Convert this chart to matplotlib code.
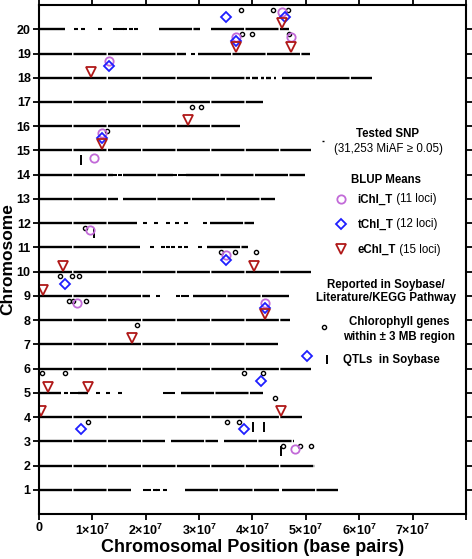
import matplotlib
matplotlib.use("Agg")
import matplotlib.pyplot as plt
import numpy as np

plt.rcParams['font.family'] = ['Liberation Sans', 'DejaVu Sans']
plt.rcParams['mathtext.default'] = 'regular'

MB = 1e6

# tested SNP coverage per chromosome (Mb): dense stretches and sparse single SNPs
snp_segments = {
    1: [(0, 17.3), (27.3, 45.0), (45.5, 56.0)],
    2: [(0, 51.7)],
    3: [(0, 23.6), (24.8, 33.6), (34.6, 47.8)],
    4: [(0, 49.3)],
    5: [(0, 4.2), (7.3, 9.2), (26.7, 42.0)],
    6: [(0, 50.9)],
    7: [(0, 44.8)],
    8: [(0, 47.1)],
    9: [(0, 20.8), (28.9, 46.8)],
    10: [(0, 50.9)],
    11: [(0, 18.9), (31.4, 39.1)],
    12: [(0, 18.3), (32.0, 40.3)],
    13: [(0, 14.8), (15.8, 44.2)],
    14: [(0, 13.9), (15.8, 25.1), (27.6, 49.8)],
    15: [(0, 51.0)],
    16: [(0, 37.6)],
    17: [(0, 42.0)],
    18: [(0, 39.6), (40.0, 41.0), (41.6, 42.2), (42.6, 43.4), (44.0, 44.4), (45.6, 62.5)],
    19: [(0, 27.6), (29.8, 50.7)],
    20: [(0, 4.8), (22.5, 30.1), (32.3, 46.8)],
}
snp_sparse = {
    1: [19.8, 20.7, 21.7, 22.3, 23.6],
    5: [5.1, 6.1, 7.0, 11.1, 12.9, 15.2, 23.6, 24.4, 25.1],
    9: [22.3, 26.1, 27.0, 27.7],
    11: [21.1, 23.3, 24.2, 25.1, 26.4, 27.6, 30.1],
    12: [19.8, 22.0, 24.2, 25.8, 27.6, 31.1],
    14: [14.2, 15.1, 25.4, 26.4, 27.2],
    19: [28.8],
    20: [6.9, 8.3, 11.4, 14.2, 14.8, 15.5, 16.1, 17.3, 18.1],
}

# BLUP loci (chromosome, position Mb)
ichl_chr = [19, 19, 18, 20, 15, 14, 11, 10, 8, 8, 2]
ichl_pos = [36.9, 47.2, 13.1, 45.6, 11.8, 10.4, 9.5, 35.1, 7.2, 42.4, 47.9]
tchl_chr = [20, 20, 19, 18, 15, 10, 9, 8, 6, 5, 3, 3]
tchl_pos = [35.0, 46.1, 36.9, 13.1, 11.8, 35.1, 4.9, 42.4, 50.3, 41.6, 7.8, 38.4]
echl_chr = [20, 19, 19, 18, 16, 15, 10, 10, 9, 8, 7, 5, 5, 4, 4]
echl_pos = [45.6, 36.9, 47.2, 9.7, 27.9, 11.8, 4.45, 40.3, 0.8, 42.4, 17.5, 1.75, 9.15, 0.45, 45.3]

# chlorophyll genes within +/- 3 Mb
gene_chr = [20, 20, 20, 19, 19, 19, 16, 16, 15, 11, 10, 10, 10, 9, 9, 9,
            8, 8, 8, 7, 5, 5, 5, 5, 4, 3, 3, 3, 2, 2, 2]
gene_pos = [37.8, 43.9, 46.6, 38.1, 40.0, 46.9, 28.6, 30.4, 12.8, 8.6, 34.2, 36.8, 40.7,
            4.0, 6.2, 7.5, 5.6, 6.4, 8.8, 18.4, 0.6, 4.8, 38.5, 42.0, 44.2, 9.15, 35.2, 37.4,
            45.8, 48.9, 50.9]

# QTLs in Soybase
qtl_chr = [14, 11, 3, 3, 2]
qtl_pos = [7.9, 10.3, 40.2, 42.2, 45.3]

x_ticks = [0, 1e7, 2e7, 3e7, 4e7, 5e7, 6e7, 7e7, 8e7]
x_labels = ['0', '1×10$^{7}$', '2×10$^{7}$', '3×10$^{7}$', '4×10$^{7}$',
            '5×10$^{7}$', '6×10$^{7}$', '7×10$^{7}$', '']

c_i = '#c26ad8'
c_t = '#1f1fff'
c_e = '#b01818'

fig = plt.figure(figsize=(4.72, 5.59), dpi=100)
ax = fig.add_axes([0.0826, 0.0805, 0.9044, 0.9105])

for ch, segs in snp_segments.items():
    for a, b in segs:
        ax.plot([a * MB, b * MB], [ch, ch], color='black', lw=1.7,
                ls=(0, (14, 0.6)), solid_capstyle='butt')
for ch, pts in snp_sparse.items():
    ax.plot(np.array(pts) * MB, [ch] * len(pts), ls='none', marker='_',
            ms=2.5, mew=1.5, color='black')

ax.plot(np.array(gene_pos) * MB, np.array(gene_chr) + 0.8, ls='none', marker='o',
        ms=3, mfc='none', mec='black', mew=1.0)
ax.vlines(np.array(qtl_pos) * MB, np.array(qtl_chr) + 0.4, np.array(qtl_chr) + 0.8,
          color='black', lw=1.4)
ax.plot(np.array(ichl_pos) * MB, np.array(ichl_chr) + 0.7, ls='none', marker='o',
        ms=6, mfc='none', mec=c_i, mew=1.3)
ax.plot(np.array(tchl_pos) * MB, np.array(tchl_chr) + 0.5, ls='none', marker='D',
        ms=4.6, mfc='none', mec=c_t, mew=1.3)
ax.plot(np.array(echl_pos) * MB, np.array(echl_chr) + 0.25, ls='none', marker='v',
        ms=6.5, mfc='none', mec=c_e, mew=1.3)

# legend drawn by hand
fs = 8.3
ax.plot([53.3 * MB], [15.4], marker='_', ms=2, mew=1, color='black')
ax.text(65.4 * MB, 15.67, 'Tested SNP', ha='center', va='center', fontsize=fs, fontweight='bold')
ax.text(65.4 * MB, 15.05, '(31,253 MiAF ≥ 0.05)', ha='center', va='center', fontsize=fs)
ax.text(65.0 * MB, 13.8, 'BLUP Means', ha='center', va='center', fontsize=fs, fontweight='bold')
ax.plot([56.6 * MB], [12.98], marker='o', ms=6, mfc='none', mec=c_i, mew=1.3)
ax.plot([56.6 * MB], [11.95], marker='D', ms=4.6, mfc='none', mec=c_t, mew=1.3)
ax.plot([56.6 * MB], [10.95], marker='v', ms=6.5, mfc='none', mec=c_e, mew=1.3)
for yy, name, n in [(12.98, 'iChl_T', '(11 loci)'), (11.95, 'tChl_T', '(12 loci)'),
                    (10.9, 'eChl_T', '(15 loci)')]:
    t = ax.text(59.7 * MB, yy, name, ha='left', va='center', fontsize=fs, fontweight='bold')
    ax.annotate(' ' + n, xycoords=t, xy=(1, 0.5), va='center', ha='left', fontsize=fs)
ax.text(65.0 * MB, 9.43, 'Reported in Soybase/', ha='center', va='center', fontsize=fs, fontweight='bold')
ax.text(65.0 * MB, 8.9, 'Literature/KEGG Pathway', ha='center', va='center', fontsize=fs, fontweight='bold')
ax.plot([53.4 * MB], [7.7], marker='o', ms=3, mfc='none', mec='black', mew=1.0)
ax.text(67.5 * MB, 7.94, 'Chlorophyll genes', ha='center', va='center', fontsize=fs, fontweight='bold')
ax.text(67.5 * MB, 7.32, 'within ± 3 MB region', ha='center', va='center', fontsize=fs, fontweight='bold')
ax.vlines([54.0 * MB], 6.2, 6.55, color='black', lw=1.4)
ax.text(57.0 * MB, 6.37, 'QTLs  in Soybase', ha='left', va='center', fontsize=fs, fontweight='bold')

ax.set_xlim(0, 8e7)
ax.set_ylim(0, 21)
ax.set_xticks(x_ticks)
ax.set_xticklabels(x_labels)
ax.set_yticks(range(1, 21))
ax.tick_params(direction='out', length=4, width=1.3, top=True, right=True,
               labelsize=9, pad=2)
for lab in ax.get_xticklabels() + ax.get_yticklabels():
    lab.set_fontweight('bold')
for sp in ax.spines.values():
    sp.set_linewidth(1.5)
ax.set_xlabel('Chromosomal Position (base pairs)', fontsize=13, fontweight='bold', labelpad=1)
ax.set_ylabel('Chromosome', fontsize=12.5, fontweight='bold', labelpad=1)

fig.savefig('out.png', dpi=100)
